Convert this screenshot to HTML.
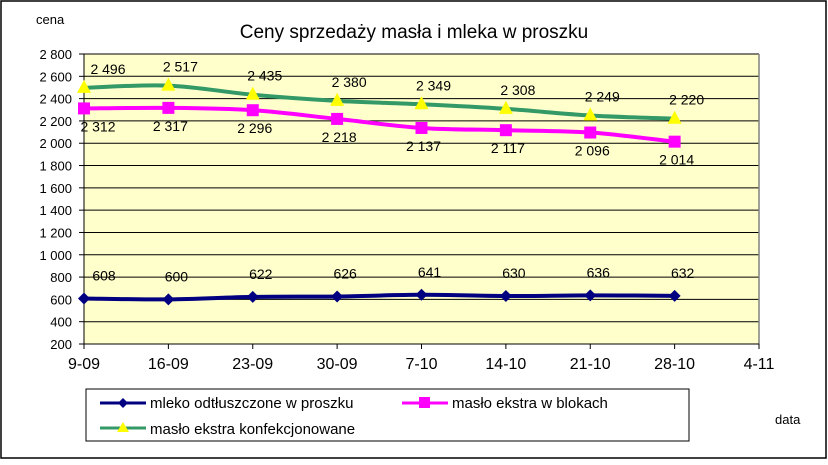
<!DOCTYPE html>
<html><head><meta charset="utf-8"><style>
body{margin:0;background:#fff;font-family:"Liberation Sans",Arial,sans-serif}
svg text{font-family:"Liberation Sans",Arial,sans-serif}
</style></head><body>
<svg id="c" width="828" height="460" xmlns="http://www.w3.org/2000/svg">
<rect x="1" y="1" width="825" height="457" fill="#fff" stroke="#000" stroke-width="1.5"/>
<rect x="84" y="54" width="675" height="290" fill="#FFFFCC"/>
<g id="grid"></g><g id="axes"></g><g id="series"></g>
<text x="414" y="38" font-size="19" text-anchor="middle">Ceny sprzedaży masła i mleka w proszku</text>
<text x="36" y="24" font-size="13">cena</text>
<text x="775" y="424" font-size="13">data</text>
<rect x="86" y="389" width="603" height="52" fill="#fff" stroke="#000"/>
<g>
<line x1="100" y1="403" x2="146" y2="403" stroke="#000080" stroke-width="3"/>
<path d="M123 398 L128 403 L123 408 L118 403Z" fill="#000080"/>
<text x="150" y="408" font-size="15">mleko odtłuszczone w proszku</text></g>
<g>
<line x1="402" y1="403" x2="448" y2="403" stroke="#FF00FF" stroke-width="3"/>
<rect x="419" y="397" width="11" height="11" fill="#FF00FF"/>
<text x="452" y="408" font-size="15">masło ekstra w blokach</text></g>
<g>
<line x1="100" y1="428" x2="146" y2="428" stroke="#339966" stroke-width="3"/>
<path d="M123 422 L129 432 L117 432Z" fill="#FFFF00"/>
<text x="150" y="434" font-size="15">masło ekstra konfekcjonowane</text></g>
</svg>
<script>
const categories=["9-09","16-09","23-09","30-09","7-10","14-10","21-10","28-10","4-11"];
const mleko=[608,600,622,626,641,630,636,632];
const blokach=[2312,2317,2296,2218,2137,2117,2096,2014];
const konfek=[2496,2517,2435,2380,2349,2308,2249,2220];
const yTicks=[200,400,600,800,1000,1200,1400,1600,1800,2000,2200,2400,2600,2800];
const NS="http://www.w3.org/2000/svg";
const X0=84,X1=759,Y0=344,Y1=54,YMIN=200,YMAX=2800;
const x=i=>X0+i*(X1-X0)/(categories.length-1);
const y=v=>Y0-(v-YMIN)/(YMAX-YMIN)*(Y0-Y1);
const fmt=v=>{const s=String(v);return s.length>3?s.slice(0,-3)+" "+s.slice(-3):s;};
function mk(t,a,p){const e=document.createElementNS(NS,t);for(const k in a)e.setAttribute(k,a[k]);p.appendChild(e);return e;}
const grid=document.getElementById("grid"),axes=document.getElementById("axes"),ser=document.getElementById("series");
yTicks.forEach(v=>{
 const l=mk("line",{x1:X0,x2:X1,y1:y(v),y2:y(v),stroke:"#000","stroke-width":1},grid);
 
 
 mk("line",{x1:X0-5,x2:X0,y1:y(v),y2:y(v),stroke:"#000"},axes);
 const t=mk("text",{x:X0-12,y:y(v)+5,"font-size":13,"text-anchor":"end"},axes);t.textContent=fmt(v);
 
 
});
mk("line",{x1:X0,x2:X0,y1:Y1,y2:Y0,stroke:"#000"},axes);
mk("line",{x1:X1,x2:X1,y1:Y1,y2:Y0,stroke:"#808080","stroke-width":1.5},axes);
mk("line",{x1:X0,x2:X1,y1:Y0,y2:Y0,stroke:"#000"},axes);
categories.forEach((c,i)=>{
 mk("line",{x1:x(i),x2:x(i),y1:Y0,y2:Y0+5,stroke:"#000"},axes);
 const t=mk("text",{x:x(i),y:Y0+25,"font-size":16,"text-anchor":"middle"},axes);t.textContent=c;
 
 
});
function smooth(pts){let d="M"+pts[0][0]+" "+pts[0][1];for(let i=0;i<pts.length-1;i++){const p0=pts[i-1]||pts[i],p1=pts[i],p2=pts[i+1],p3=pts[i+2]||p2;
 d+=" C"+(p1[0]+(p2[0]-p0[0])/6)+" "+(p1[1]+(p2[1]-p0[1])/6)+" "+(p2[0]-(p3[0]-p1[0])/6)+" "+(p2[1]-(p3[1]-p1[1])/6)+" "+p2[0]+" "+p2[1];}return d;}
function series(data,color,marker,name,lx,ly){
 const g=mk("g",{},ser);
 
 
 const pts=data.map((v,i)=>[x(i),y(v)]);
 mk("path",{d:smooth(pts),fill:"none",stroke:color,"stroke-width":4},g);
 pts.forEach((p,i)=>{
  let m;
  if(marker==="d")m=mk("path",{d:`M${p[0]} ${p[1]-6}L${p[0]+6} ${p[1]}L${p[0]} ${p[1]+6}L${p[0]-6} ${p[1]}Z`,fill:"#000080"},g);
  else if(marker==="s")m=mk("rect",{x:p[0]-6,y:p[1]-6,width:12,height:12,fill:"#FF00FF"},g);
  else m=mk("path",{d:`M${p[0]} ${p[1]-8}L${p[0]+7} ${p[1]+5}L${p[0]-7} ${p[1]+5}Z`,fill:"#FFFF00"},g);
  
  
  const t=mk("text",{x:p[0]+(i===0?lx+12:lx),y:p[1]+ly,"font-size":14,"text-anchor":"middle"},g);t.textContent=fmt(data[i]);
  
  
 });
}
series(mleko,"#000080","d","series-mleko",8,-18);
series(blokach,"#FF00FF","s","series-maslo-blokach",2,23);
series(konfek,"#339966","t","series-maslo-konfekcjonowane",12,-14);
</script>
</body></html>
